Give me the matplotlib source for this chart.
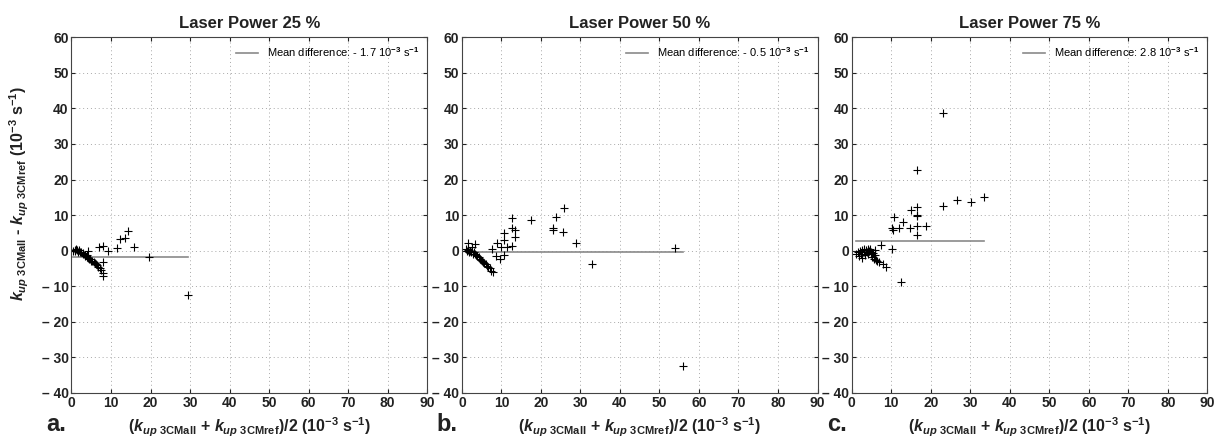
import numpy as np
import matplotlib.pyplot as plt
from matplotlib.ticker import FuncFormatter

plt.rcParams['font.family'] = ['Liberation Sans', 'DejaVu Sans']
plt.rcParams['font.weight'] = 'bold'
plt.rcParams['mathtext.fontset'] = 'custom'
plt.rcParams['mathtext.rm'] = 'Liberation Sans:bold'
plt.rcParams['mathtext.it'] = 'Liberation Sans:italic:bold'
plt.rcParams['mathtext.bf'] = 'Liberation Sans:bold'

titles = ['Laser Power 25 %', 'Laser Power 50 %', 'Laser Power 75 %']
letters = ['a.', 'b.', 'c.']
mean_diff = [-1.7, -0.5, 2.8]

# Bland-Altman points: x = average of both methods, y = difference
x25 = [0.5, 0.8, 1.0, 1.2, 1.5, 1.7, 2.0, 2.2, 2.5, 2.8, 3.0, 3.3, 3.5, 3.8, 4.0,
       4.3, 4.5, 4.8, 5.0, 5.3, 5.6, 5.9, 6.2, 6.5, 6.8, 7.1, 7.4, 4.2,
       7.0, 7.9, 9.3, 11.6, 12.3, 13.5, 14.4, 15.8, 19.6, 29.6, 8.1, 8.1, 8.1]
y25 = [0.0, 0.3, -0.2, 0.5, 0.1, -0.3, 0.2, -0.5, -0.4, -0.8, -0.6, -1.1, -1.4, -1.3, -1.8,
       -2.0, -2.4, -2.2, -2.8, -3.0, -3.2, -3.5, -3.7, -4.0, -4.5, -4.9, -5.5, 0.0,
       1.1, 1.4, -0.1, 0.7, 3.3, 3.7, 5.6, 1.0, -1.9, -12.4, -3.3, -6.3, -7.0]

x50 = [1.0, 1.3, 1.6, 1.9, 2.1, 2.4, 2.7, 3.0, 3.3, 3.6, 3.9, 4.2, 4.5, 4.8, 5.1,
       5.4, 5.7, 6.0, 6.3, 6.6, 7.0, 7.4, 7.8, 1.5, 3.2, 2.5,
       7.5, 8.9, 10.0, 10.6, 10.6, 11.3, 12.6, 13.4, 13.5, 12.8, 12.8, 17.6, 23.0,
       23.1, 25.6, 23.8, 25.8, 29.0, 32.9, 54.0, 10.6, 9.6, 8.5, 56.0]
y50 = [0.5, -0.2, 0.3, -0.5, 0.0, -0.3, -0.8, -0.5, -1.0, -1.3, -1.6, -1.9, -2.2, -2.5, -2.8,
       -3.1, -3.5, -3.8, -4.2, -4.6, -5.0, -5.6, -6.1, 2.1, 2.0, 1.0,
       0.5, 2.1, 0.9, 5.0, 3.1, 1.0, 1.4, 3.8, 5.9, 6.3, 9.2, 8.7, 6.3,
       5.8, 5.3, 9.4, 12.1, 2.3, -3.8, 0.7, -1.2, -2.3, -1.5, -32.5]

x75 = [1.2, 1.5, 1.8, 2.0, 2.3, 2.5, 2.7, 3.0, 3.2, 3.4, 3.6, 3.8, 4.0, 4.2, 4.4,
       4.6, 4.8, 5.0, 5.2, 5.4, 5.6, 5.8, 6.0, 6.2, 6.5, 7.0,
       7.3, 7.9, 8.7, 10.2, 12.4, 10.1, 10.4, 11.9, 10.8, 13.0, 14.8, 15.1, 16.4,
       16.4, 16.5, 16.4, 16.4, 18.7, 16.6, 23.0, 23.1, 26.6, 30.2, 33.6]
y75 = [-1.0, -0.3, -1.5, 0.0, -0.8, -2.0, 0.3, -0.5, 0.5, -1.2, 0.2, -0.3, 0.6, -0.8, -0.2,
       0.4, -1.0, -0.5, -1.8, -0.6, -2.2, -1.3, 0.2, -2.5, -2.8, -3.3,
       1.7, -3.7, -4.7, 0.5, -8.9, 6.5, 5.7, 6.5, 9.4, 8.0, 6.5, 11.5, 12.2,
       10.0, 9.7, 7.0, 4.4, 7.0, 22.8, 12.7, 38.6, 14.2, 13.6, 15.1]

xs = [x25, x50, x75]
ys = [y25, y50, y75]

fig = plt.figure(figsize=(12.22, 4.44), dpi=100)
lefts = [0.0585, 0.378, 0.697]

def ytick_fmt(v, pos):
    if v < 0:
        return '\u2013 %d' % abs(v)
    return '%d' % v

for i in range(3):
    ax = fig.add_axes([lefts[i], 0.115, 0.291, 0.801])
    x = np.array(xs[i])
    y = np.array(ys[i])

    # mean difference line across the range of averages
    ax.plot([x.min(), x.max()], [mean_diff[i], mean_diff[i]], color='#8a8a8a', lw=1.2,
            label='Mean difference: %s 10$^{-3}$ s$^{-1}$' %
            ('- %.1f' % abs(mean_diff[i]) if mean_diff[i] < 0 else '%.1f' % mean_diff[i]))
    ax.plot(x, y, '+', color='black', markersize=6, mew=0.8)

    ax.set_xlim(0, 90)
    ax.set_ylim(-40, 60)
    ax.set_xticks(np.arange(0, 91, 10))
    ax.set_yticks(np.arange(-40, 61, 10))
    ax.yaxis.set_major_formatter(FuncFormatter(ytick_fmt))
    ax.grid(True, linestyle=(0, (1, 3)), color='#a8a8a8', lw=0.7)
    ax.tick_params(direction='in', length=3, labelsize=10, colors='#222222', pad=2,
                   top=True, right=True)
    for s in ax.spines.values():
        s.set_color('#444444')
        s.set_linewidth(0.8)
    ax.set_title(titles[i], fontsize=12, fontweight='bold', pad=7, color='#222222')
    leg = ax.legend(loc='upper right', frameon=False, fontsize=8, handlelength=2.0,
                    borderaxespad=0.3)
    for t in leg.get_texts():
        t.set_fontweight('normal')
    ax.set_xlabel(r'($k_{up\ \mathrm{3CMall}}$ + $k_{up\ \mathrm{3CMref}}$)/2 (10$^{-3}$ s$^{-1}$)',
                  fontsize=11.5, fontweight='bold', labelpad=4, color='#222222')
    fig.text(lefts[i] - 0.004, 0.03, letters[i], fontsize=17, fontweight='bold',
             ha='right', va='baseline', color='#222222')

fig.text(0.016, 0.565,
         r'$k_{up\ \mathrm{3CMall}}$ - $k_{up\ \mathrm{3CMref}}$ (10$^{-3}$ s$^{-1}$)',
         rotation=90, ha='center', va='center', fontsize=11.5, fontweight='bold', color='#222222')

fig.savefig('out.png', dpi=100)
